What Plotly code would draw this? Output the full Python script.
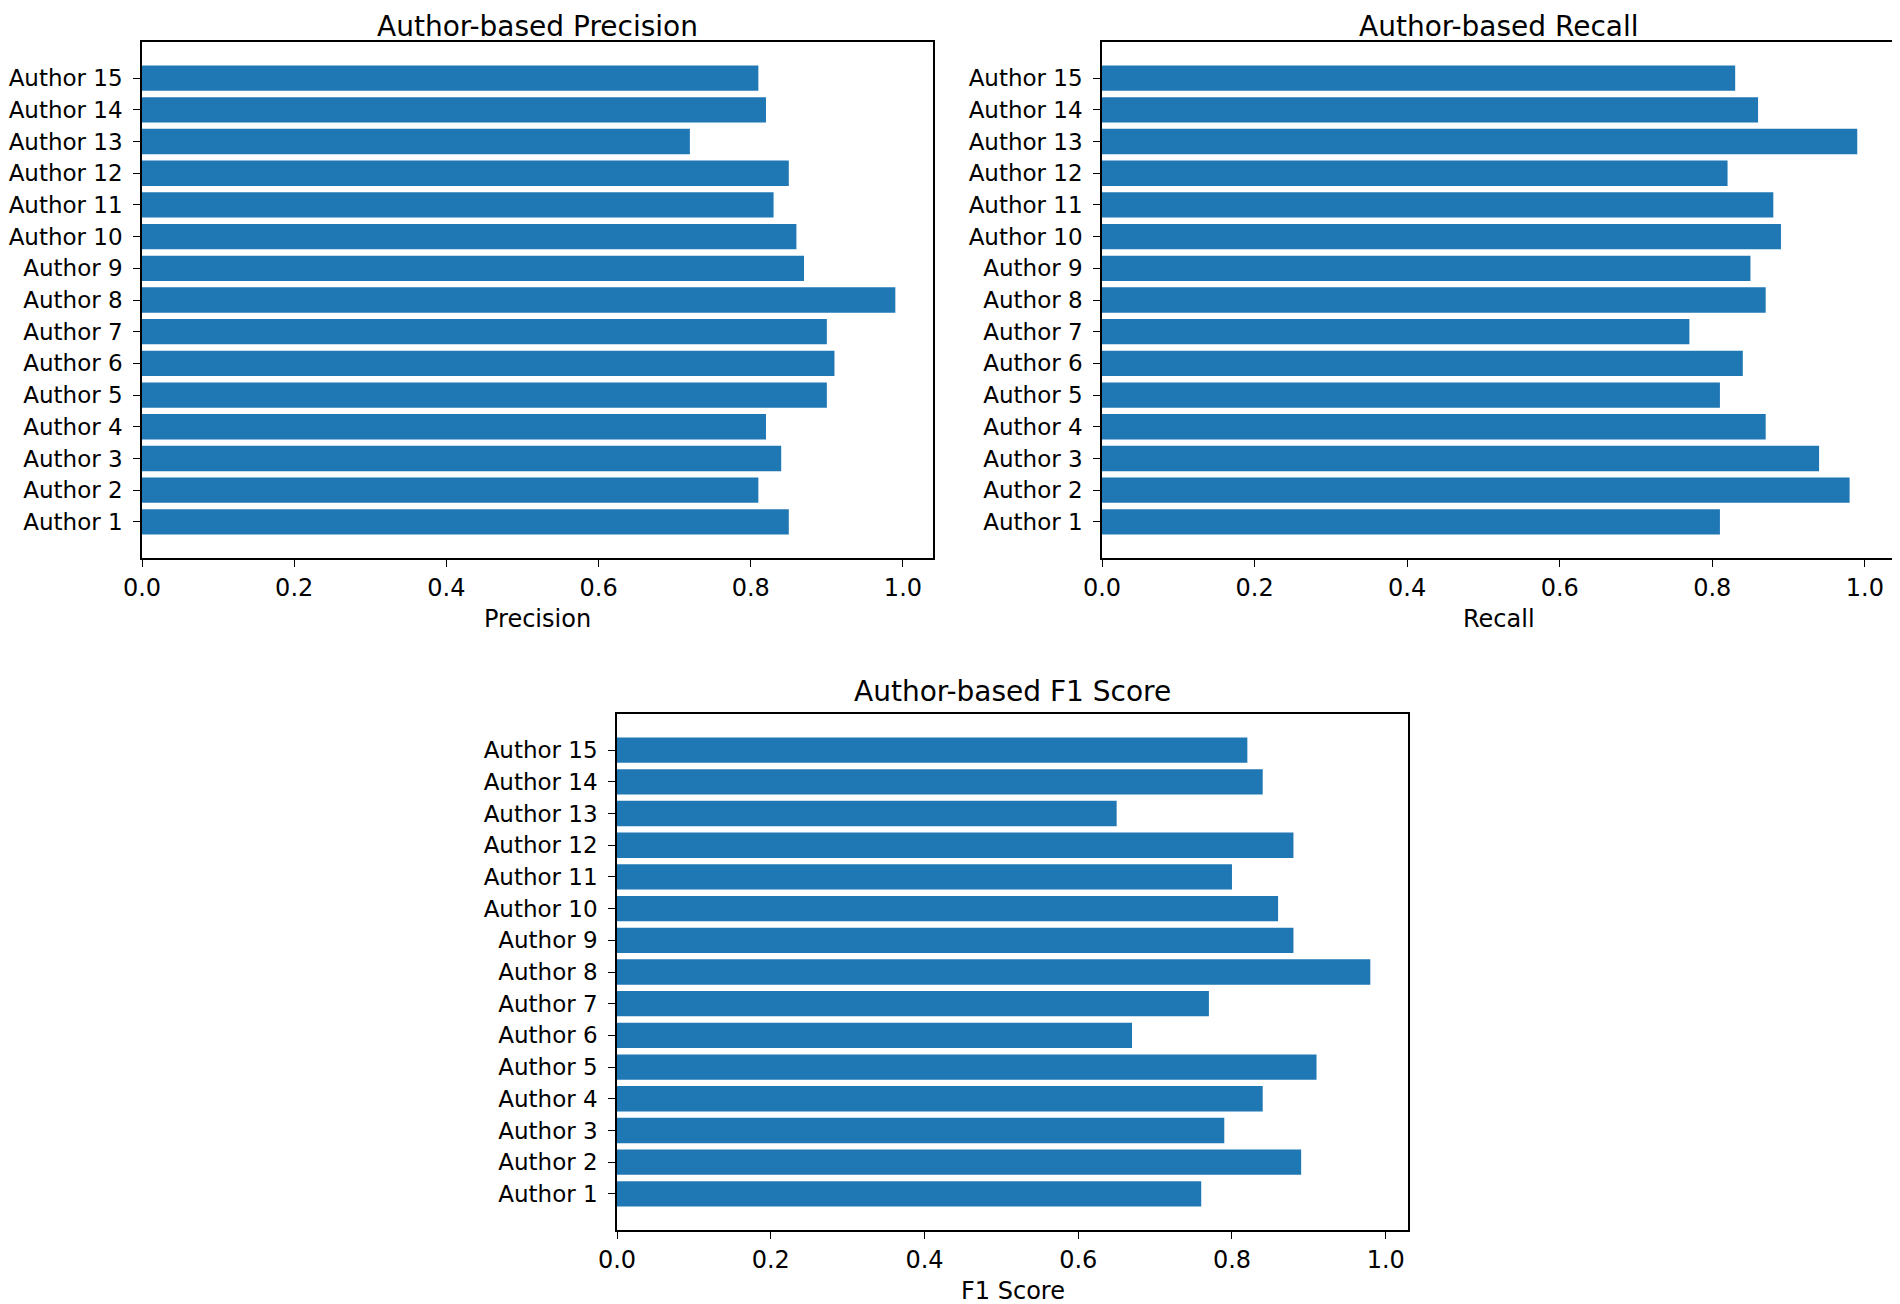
import plotly.graph_objects as go

authors = [f"Author {i}" for i in range(1, 16)]
precision = [0.85, 0.81, 0.84, 0.82, 0.90, 0.91, 0.90, 0.99, 0.87, 0.86, 0.83, 0.85, 0.72, 0.82, 0.81]
recall = [0.81, 0.98, 0.94, 0.87, 0.81, 0.84, 0.77, 0.87, 0.85, 0.89, 0.88, 0.82, 0.99, 0.86, 0.83]
f1 = [0.76, 0.89, 0.79, 0.84, 0.91, 0.67, 0.77, 0.98, 0.88, 0.86, 0.80, 0.88, 0.65, 0.84, 0.82]
tick_vals = [0.0, 0.2, 0.4, 0.6, 0.8, 1.0]

OFF = 8  # page body margin in the browser
W, H = 1900 - OFF, 1304 - OFF
BLUE = "#1f77b4"
FONT = "DejaVu Sans"

panels = [
    dict(vals=precision, title="Author-based Precision", xlabel="Precision",
         box=(142, 933, 42, 558)),
    dict(vals=recall, title="Author-based Recall", xlabel="Recall",
         box=(1102, 1895, 42, 558)),
    dict(vals=f1, title="Author-based F1 Score", xlabel="F1 Score",
         box=(617, 1408, 714, 1230)),
]

fig = go.Figure()
annotations = []
for i, p in enumerate(panels, start=1):
    xa = "x" if i == 1 else f"x{i}"
    ya = "y" if i == 1 else f"y{i}"
    fig.add_trace(go.Bar(
        x=p["vals"], y=authors, orientation="h", width=0.8,
        marker=dict(color=BLUE, line=dict(width=0)),
        xaxis=xa, yaxis=ya, showlegend=False,
    ))
    l, r, t, b = [v - OFF for v in p["box"]]
    xdom = [l / W, r / W]
    ydom = [1 - b / H, 1 - t / H]
    axis_common = dict(showline=True, mirror=True, linecolor="black", linewidth=1.5,
                       showgrid=False, zeroline=False, ticks="outside", ticklen=7,
                       tickwidth=1.3, tickcolor="black", automargin=False)
    fig.layout[("xaxis" if i == 1 else f"xaxis{i}")] = dict(
        domain=xdom, anchor=ya, range=[0, max(p["vals"]) * 1.05],
        tickvals=tick_vals, tickformat=".1f",
        tickfont=dict(family=FONT, size=24, color="black"), **axis_common)
    fig.layout[("yaxis" if i == 1 else f"yaxis{i}")] = dict(
        domain=ydom, anchor=xa, type="category", categoryorder="array",
        categoryarray=authors, range=[-1.14, 15.14], ticklabelstandoff=6,
        tickfont=dict(family=FONT, size=23, color="black"), **axis_common)
    cx = (xdom[0] + xdom[1]) / 2
    title_top = max(t - 41, 0)
    annotations.append(dict(text=p["title"], x=cx, y=1 - title_top / H, xref="paper", yref="paper",
                            xanchor="center", yanchor="top", showarrow=False,
                            font=dict(family=FONT, size=28, color="black")))
    annotations.append(dict(text=p["xlabel"], x=cx, y=1 - (b + 61) / H, xref="paper", yref="paper",
                            xanchor="center", yanchor="middle", showarrow=False,
                            font=dict(family=FONT, size=24, color="black")))

fig.update_layout(width=W, height=H, margin=dict(l=0, r=0, t=0, b=0),
                  template="none",
                  paper_bgcolor="white", plot_bgcolor="white",
                  annotations=annotations, bargap=0.2)
fig.write_html("out.html")
